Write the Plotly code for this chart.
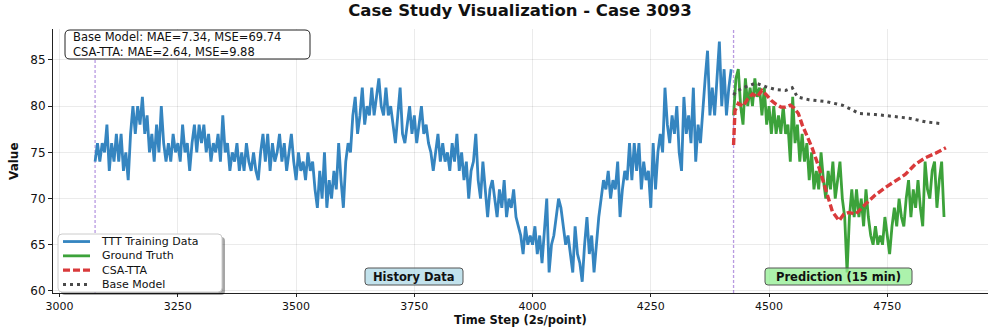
import plotly.graph_objects as go

# ---------------- data ----------------
train_start = 3075
pred_start = 4425
step = 5

train_values = [
    74, 76, 74, 76, 75, 78, 73, 76, 74, 77, 74, 77, 73, 75, 72, 77, 80, 77, 80, 78,
    81, 77, 79, 75, 77, 74, 78, 75, 80, 76, 74, 76, 74, 77, 75, 76, 74, 78, 75, 76,
    73, 76, 78, 75, 78, 76, 78, 75, 77, 74, 76, 75, 77, 74, 79, 75, 76, 73, 75, 74,
    76, 73, 75, 73, 76, 74,
    73, 75, 73, 72, 75, 77, 74, 77, 73, 76, 74, 75, 77, 74, 76, 73, 75, 77, 74, 72,
    75, 73, 74, 72, 75, 73, 74, 71, 69, 73, 70, 75, 69, 72, 70, 73, 71, 76, 72, 69,
    74, 76, 75, 79, 81, 77, 79, 82, 78, 80, 79, 82, 79, 81, 83, 80, 79, 82, 79, 80,
    78, 76, 79, 82, 77, 76, 78, 80, 77, 79, 76, 78, 80, 77, 78, 76, 75, 73, 75, 77,
    74, 76, 74, 75, 73, 76, 74, 77, 73, 75, 72, 74, 70, 73, 74, 77, 72, 70, 74, 71,
    68, 71, 72, 70, 68, 71, 69, 72, 68, 70, 69, 71, 68, 67, 66, 64, 67, 65, 66, 65,
    67, 64, 66, 63, 67, 70, 62, 65, 66, 68, 70, 69, 67, 65, 66, 64, 62, 67, 64, 63,
    61, 65, 68, 64, 66, 62, 65, 68, 70, 72, 71, 73, 70, 72, 71, 74, 68, 71, 73, 72,
    76, 72, 76, 73, 76, 71, 74, 72, 73, 69, 76, 71, 75, 77, 75, 82, 78, 76, 79, 77,
    80, 75, 73, 81, 77, 79, 76, 82, 74, 78, 76, 80, 83, 86, 79, 82, 79, 83, 87, 80,
    84, 79, 82, 84,
]

truth_values = [
    79, 83, 84, 80, 78, 83, 80, 82, 80, 83, 81, 82, 79, 82, 78, 80, 77, 80, 77, 79,
    77, 80, 77, 78, 74, 81, 76, 78, 74, 77, 74, 76, 72, 75, 71, 73, 71, 75, 72, 70,
    73, 71, 74, 70, 72, 74, 70, 68, 62, 68, 71, 68, 71, 68, 70, 67, 71, 68, 66, 65,
    67, 65, 66, 65, 68, 66, 64, 67, 69, 67, 70, 68, 67, 70, 72, 68, 71, 69, 72, 69,
    67, 74, 71, 70, 73, 74, 69, 72, 74, 68,
]

csa_t = [4425, 4428, 4435, 4445, 4455, 4465, 4475, 4485, 4495, 4505, 4515, 4525, 4535,
         4545, 4553, 4562, 4570, 4580, 4591, 4606, 4620, 4634, 4648, 4658, 4669, 4683,
         4704, 4725, 4746, 4767, 4788, 4809, 4830, 4852, 4874]
csa_values = [75.8, 79.5, 80.3, 80.0, 80.8, 81.3, 81.0, 81.7, 81.2, 80.6, 80.2, 79.9, 79.9,
              80.1, 79.8, 79.2, 78.0, 76.9, 75.5, 73.3, 70.8, 68.6, 67.6, 68.3, 68.5, 68.3,
              69.4, 70.4, 71.2, 71.9, 72.6, 73.7, 74.4, 74.9, 75.5]

base_t = [4425, 4430, 4451, 4472, 4493, 4514, 4535, 4549, 4560, 4584, 4620, 4655, 4676,
          4690, 4725, 4760, 4796, 4831, 4866]
base_values = [81.2, 81.6, 82.1, 82.5, 82.1, 81.8, 81.7, 82.0, 81.0, 80.7, 80.5, 80.1, 79.6,
               79.2, 79.1, 78.9, 78.7, 78.3, 78.1]

x_ticks = [3000, 3250, 3500, 3750, 4000, 4250, 4500, 4750]
y_ticks = [60, 65, 70, 75, 80, 85]

title_text = "Case Study Visualization - Case 3093"
stats_lines = ["Base Model: MAE=7.34, MSE=69.74", "CSA-TTA: MAE=2.64, MSE=9.88"]
legend_names = ["TTT Training Data", "Ground Truth", "CSA-TTA", "Base Model"]
x_title = "Time Step (2s/point)"
y_title = "Value"

train_t = [train_start + step * i for i in range(len(train_values))]
truth_t = [pred_start + step * i for i in range(len(truth_values))]

# ---------------- style ----------------
FONT = "DejaVu Sans"
C_BLUE = "#3585c0"
C_GREEN = "#3ca23a"
C_RED = "#d93a3b"
C_GRAY = "#4a4a4a"
C_PURPLE = "rgba(160,120,215,0.75)"
TXT = "#111111"

W, H = 996, 327
L, R, T, B = 53, 8, 29, 34
PW, PH = W - L - R, H - T - B


def px(x):
    return (x - L) / PW


def py(y):
    return (H - B - y) / PH


def rrect(x0, y0, x1, y1, r=4):
    a0, a1 = px(x0), px(x1)
    b1, b0 = py(y0), py(y1)
    rx, ry = r / PW, r / PH
    return (f"M {a0+rx},{b1} L {a1-rx},{b1} Q {a1},{b1} {a1},{b1-ry} "
            f"L {a1},{b0+ry} Q {a1},{b0} {a1-rx},{b0} L {a0+rx},{b0} "
            f"Q {a0},{b0} {a0},{b0+ry} L {a0},{b1-ry} Q {a0},{b1} {a0+rx},{b1} Z")


fig = go.Figure()
fig.add_trace(go.Scatter(x=train_t, y=train_values, mode="lines", name=legend_names[0],
                         line=dict(color=C_BLUE, width=2.8), showlegend=False))
fig.add_trace(go.Scatter(x=truth_t, y=truth_values, mode="lines", name=legend_names[1],
                         line=dict(color=C_GREEN, width=2.8), showlegend=False))
fig.add_trace(go.Scatter(x=csa_t, y=csa_values, mode="lines", name=legend_names[2],
                         line=dict(color=C_RED, width=3.4, dash="7px,3px"), showlegend=False))
fig.add_trace(go.Scatter(x=base_t, y=base_values, mode="lines", name=legend_names[3],
                         line=dict(color=C_GRAY, width=3, dash="3px,4px"), showlegend=False))

shapes = []
for xv in (train_start, pred_start):
    shapes.append(dict(type="line", xref="x", yref="paper", x0=xv, x1=xv, y0=0, y1=1,
                       line=dict(color=C_PURPLE, width=1.3, dash="3px,2px"), layer="between"))

# stats box
shapes.append(dict(type="path", xref="paper", yref="paper", path=rrect(65, 30, 310, 59, 5),
                   fillcolor="white", line=dict(color="#222", width=1), layer="above"))
# region label boxes
shapes.append(dict(type="path", xref="paper", yref="paper", path=rrect(365, 268, 463, 285, 3),
                   fillcolor="rgba(173,216,230,0.75)", line=dict(color="#555", width=1), layer="above"))
shapes.append(dict(type="path", xref="paper", yref="paper", path=rrect(765, 268, 912, 285, 3),
                   fillcolor="rgba(144,238,144,0.75)", line=dict(color="#555", width=1), layer="above"))
# legend shadow + box
LG_TOP, LG_BOT = 234, 292
shapes.append(dict(type="path", xref="paper", yref="paper", path=rrect(61, LG_TOP + 3, 225, LG_BOT + 3, 4),
                   fillcolor="rgba(0,0,0,0.35)", line=dict(width=0), layer="above"))
shapes.append(dict(type="path", xref="paper", yref="paper", path=rrect(58, LG_TOP, 222, LG_BOT, 4),
                   fillcolor="white", line=dict(color="#cccccc", width=1), layer="above"))

LG_FS = 11
row_gap = LG_FS * 1.3
lg_center = (LG_TOP + LG_BOT) / 2
legend_rows = [lg_center + (i - 1.5) * row_gap for i in range(4)]
legend_styles = [
    dict(color=C_BLUE, width=2.8),
    dict(color=C_GREEN, width=2.8),
    dict(color=C_RED, width=3.4, dash="7px,3px"),
    dict(color=C_GRAY, width=3, dash="3px,4px"),
]
annotations = []
for yrow, sty in zip(legend_rows, legend_styles):
    shapes.append(dict(type="line", xref="paper", yref="paper", x0=px(63), x1=px(90),
                       y0=py(yrow), y1=py(yrow), line=sty, layer="above"))
annotations.append(dict(xref="paper", yref="paper", x=px(99), y=py(lg_center),
                        text="<br>".join(legend_names), align="left",
                        showarrow=False, xanchor="left", yanchor="middle",
                        font=dict(family=FONT, size=LG_FS, color=TXT)))

annotations.append(dict(xref="paper", yref="paper", x=px(71), y=py(44.5), text="<br>".join(stats_lines),
                        showarrow=False, xanchor="left", yanchor="middle", align="left",
                        font=dict(family=FONT, size=11.5, color=TXT)))
annotations.append(dict(xref="paper", yref="paper", x=px(414), y=py(276.5), text="<b>History Data</b>",
                        showarrow=False, xanchor="center", yanchor="middle",
                        font=dict(family=FONT, size=11.5, color=TXT)))
annotations.append(dict(xref="paper", yref="paper", x=px(838.5), y=py(276.5),
                        text="<b>Prediction (15 min)</b>",
                        showarrow=False, xanchor="center", yanchor="middle",
                        font=dict(family=FONT, size=11.5, color=TXT)))
# axis titles
annotations.append(dict(xref="paper", yref="paper", x=px(520), y=py(320), text="<b>" + x_title + "</b>",
                        showarrow=False, xanchor="center", yanchor="middle",
                        font=dict(family=FONT, size=11.5, color=TXT)))
annotations.append(dict(xref="paper", yref="paper", x=px(14), y=py(161), text="<b>" + y_title + "</b>",
                        showarrow=False, xanchor="center", yanchor="middle", textangle=-90,
                        font=dict(family=FONT, size=12, color=TXT)))

fig.update_layout(
    width=W, height=H,
    margin=dict(l=L, r=R, t=T, b=B),
    paper_bgcolor="white", plot_bgcolor="white",
    font=dict(family=FONT, size=12, color=TXT),
    title=dict(text="<b>" + title_text + "</b>", x=520 / W, xanchor="center",
               y=1 - 10.5 / H, yanchor="middle", font=dict(family=FONT, size=16.5, color=TXT)),
    shapes=shapes, annotations=annotations, showlegend=False,
)
fig.update_xaxes(range=[2986, 4963], tickvals=x_ticks, showgrid=True,
                 gridcolor="rgba(0,0,0,0.08)", gridwidth=1, zeroline=False,
                 showline=True, linecolor="#222", linewidth=1, ticks="outside", ticklen=3,
                 tickcolor="#222", tickfont=dict(family=FONT, size=11, color=TXT),
                 automargin=False)
fig.update_yaxes(range=[59.78, 88.35], tickvals=y_ticks, showgrid=True,
                 gridcolor="rgba(0,0,0,0.08)", gridwidth=1, zeroline=False,
                 showline=True, linecolor="#222", linewidth=1, ticks="outside", ticklen=4,
                 tickcolor="#222", tickfont=dict(family=FONT, size=12, color=TXT),
                 automargin=False)

fig.write_html("out.html", config={"displayModeBar": False},
               post_script="document.body.style.margin='0px';")
